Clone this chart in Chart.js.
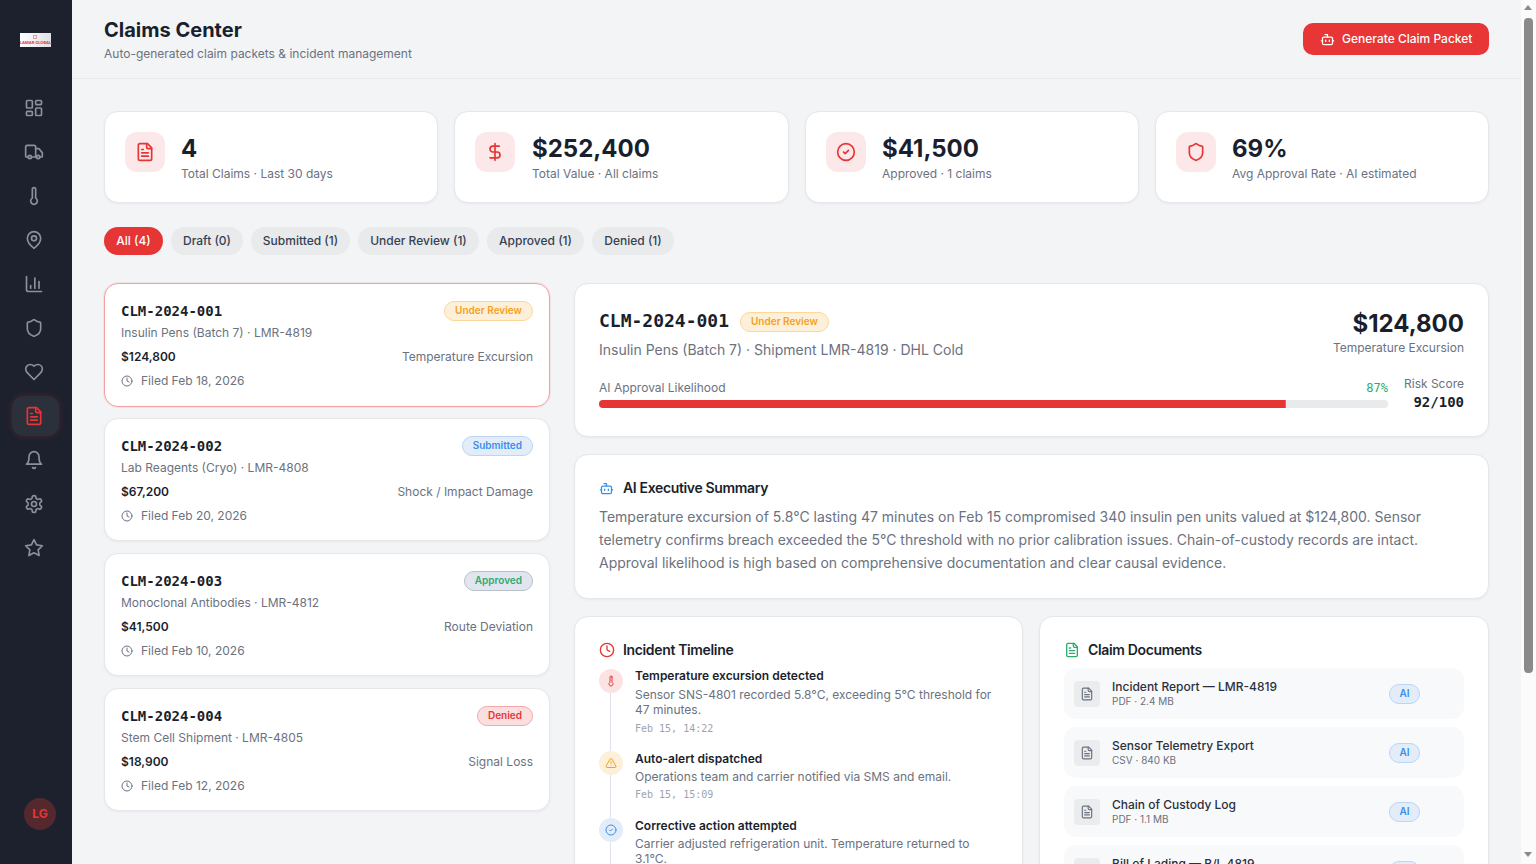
<!DOCTYPE html>
<html>
<head>
<meta charset="utf-8">
<title>Claims Center</title>
<script src="https://cdn.jsdelivr.net/npm/chart.js@4"></script>
<style>
  * { box-sizing: border-box; }
  html, body { margin: 0; padding: 0; overflow: hidden; }
  body { background: #f3f4f6; font-family: Inter, "Noto Sans", sans-serif; color: #1a1f2e; height: 864px; position: relative; }
  .a { position: absolute; white-space: nowrap; }
  .t { position: absolute; white-space: nowrap; transform: translateY(-50%); line-height: 1.2; }
  .r { transform: translate(-100%, -50%); }
  .mono { font-family: "DejaVu Sans Mono", monospace; }
  .card { position: absolute; background: #fff; border: 1px solid #e5e7eb; border-radius: 14px; box-shadow: 0 1px 3px rgba(0,0,0,.05); }
  .sidebar { position: fixed; left: 0; top: 0; width: 72px; height: 864px; background: #1c212d; z-index: 5; }
  .pills { position: absolute; left: 104px; top: 227px; display: flex; gap: 8px; }
  .pill { height: 28px; line-height: 28px; text-align: center; border-radius: 14px; background: #e9eaec; color: #374151; font-size: 12px; font-weight: 500; }
  .pill.on { background: #e53535; color: #fff; }
  .badge { position: absolute; height: 20px; line-height: 17px; padding: 0 10px; border-radius: 10px; font-size: 10px; font-weight: 600; border: 1px solid; white-space: nowrap; }
  svg { position: absolute; fill: none; stroke-linecap: round; stroke-linejoin: round; }
</style>
</head>
<body>
<div id="page"></div>
<script>
const kpiValues = ["4", "$252,400", "$41,500", "69%"];
const kpiLabels = ["Total Claims · Last 30 days", "Total Value · All claims", "Approved · 1 claims", "Avg Approval Rate · AI estimated"];
const kpiIcons = ["file", "dollar", "check", "shield"];
const filterLabels = ["All (4)", "Draft (0)", "Submitted (1)", "Under Review (1)", "Approved (1)", "Denied (1)"];
const claimIds = ["CLM-2024-001", "CLM-2024-002", "CLM-2024-003", "CLM-2024-004"];
const claimItems = ["Insulin Pens (Batch 7) · LMR-4819", "Lab Reagents (Cryo) · LMR-4808", "Monoclonal Antibodies · LMR-4812", "Stem Cell Shipment · LMR-4805"];
const claimAmounts = ["$124,800", "$67,200", "$41,500", "$18,900"];
const claimCauses = ["Temperature Excursion", "Shock / Impact Damage", "Route Deviation", "Signal Loss"];
const claimDates = ["Filed Feb 18, 2026", "Filed Feb 20, 2026", "Filed Feb 10, 2026", "Filed Feb 12, 2026"];
const claimStatus = ["Under Review", "Submitted", "Approved", "Denied"];
const summaryLines = [
  "Temperature excursion of 5.8°C lasting 47 minutes on Feb 15 compromised 340 insulin pen units valued at $124,800. Sensor",
  "telemetry confirms breach exceeded the 5°C threshold with no prior calibration issues. Chain-of-custody records are intact.",
  "Approval likelihood is high based on comprehensive documentation and clear causal evidence."
];
const docNames = ["Incident Report — LMR-4819", "Sensor Telemetry Export", "Chain of Custody Log", "Bill of Lading — B/L 4819"];
const docMeta = ["PDF · 2.4 MB", "CSV · 840 KB", "PDF · 1.1 MB", "PDF · 320 KB"];
const approvalLabels = ["AI Approval Likelihood"];
const approvalValues = [87];
const approvalRemainder = [13];

const statusStyle = {
  "Under Review": ["#fdf0d9", "#fbd79a", "#f5a01e"],
  "Submitted": ["#e3edfa", "#b9d5f7", "#3b8fe8"],
  "Approved": ["#e1e6ee", "#b8c0cc", "#2eaa6e"],
  "Denied": ["#fbdfdf", "#f5a8a8", "#e53535"]
};

const ICONS = {
  grid: '<rect x="3" y="3" width="7" height="9" rx="1"/><rect x="14" y="3" width="7" height="5" rx="1"/><rect x="14" y="12" width="7" height="9" rx="1"/><rect x="3" y="16" width="7" height="5" rx="1"/>',
  truck: '<path d="M14 18V6a2 2 0 0 0-2-2H4a2 2 0 0 0-2 2v11a1 1 0 0 0 1 1h2"/><path d="M15 18H9"/><path d="M19 18h2a1 1 0 0 0 1-1v-3.65a1 1 0 0 0-.22-.624l-3.48-4.35A1 1 0 0 0 17.52 8H14"/><circle cx="17" cy="18" r="2"/><circle cx="7" cy="18" r="2"/>',
  thermo: '<path d="M14 4v10.54a4 4 0 1 1-4 0V4a2 2 0 0 1 4 0Z"/>',
  pin: '<path d="M20 10c0 6-8 12-8 12s-8-6-8-12a8 8 0 0 1 16 0Z"/><circle cx="12" cy="10" r="3"/>',
  chart: '<path d="M3 3v16a2 2 0 0 0 2 2h16"/><path d="M18 17V9"/><path d="M13 17V5"/><path d="M8 17v-3"/>',
  shield: '<path d="M20 13c0 5-3.5 7.5-7.66 8.95a1 1 0 0 1-.67-.01C7.5 20.5 4 18 4 13V6a1 1 0 0 1 1-1c2 0 4.5-1.2 6.24-2.72a1.17 1.17 0 0 1 1.52 0C14.51 3.81 17 5 19 5a1 1 0 0 1 1 1z"/>',
  heart: '<path d="M19 14c1.49-1.46 3-3.21 3-5.5A5.5 5.5 0 0 0 16.5 3c-1.76 0-3 .5-4.5 2-1.5-1.5-2.74-2-4.5-2A5.5 5.5 0 0 0 2 8.5c0 2.3 1.5 4.05 3 5.5l7 7Z"/>',
  file: '<path d="M15 2H6a2 2 0 0 0-2 2v16a2 2 0 0 0 2 2h12a2 2 0 0 0 2-2V7Z"/><path d="M14 2v4a2 2 0 0 0 2 2h4"/><path d="M10 9H8"/><path d="M16 13H8"/><path d="M16 17H8"/>',
  bell: '<path d="M6 8a6 6 0 0 1 12 0c0 7 3 9 3 9H3s3-2 3-9"/><path d="M10.3 21a1.94 1.94 0 0 0 3.4 0"/>',
  gear: '<path d="M12.22 2h-.44a2 2 0 0 0-2 2v.18a2 2 0 0 1-1 1.73l-.43.25a2 2 0 0 1-2 0l-.15-.08a2 2 0 0 0-2.73.73l-.22.38a2 2 0 0 0 .73 2.73l.15.1a2 2 0 0 1 1 1.72v.51a2 2 0 0 1-1 1.74l-.15.09a2 2 0 0 0-.73 2.73l.22.38a2 2 0 0 0 2.73.73l.15-.08a2 2 0 0 1 2 0l.43.25a2 2 0 0 1 1 1.73V20a2 2 0 0 0 2 2h.44a2 2 0 0 0 2-2v-.18a2 2 0 0 1 1-1.73l.43-.25a2 2 0 0 1 2 0l.15.08a2 2 0 0 0 2.73-.73l.22-.39a2 2 0 0 0-.73-2.73l-.15-.08a2 2 0 0 1-1-1.74v-.5a2 2 0 0 1 1-1.74l.15-.09a2 2 0 0 0 .73-2.73l-.22-.38a2 2 0 0 0-2.73-.73l-.15.08a2 2 0 0 1-2 0l-.43-.25a2 2 0 0 1-1-1.73V4a2 2 0 0 0-2-2z"/><circle cx="12" cy="12" r="3"/>',
  star: '<polygon points="12 2 15.09 8.26 22 9.27 17 14.14 18.18 21.02 12 17.77 5.82 21.02 7 14.14 2 9.27 8.91 8.26 12 2"/>',
  dollar: '<line x1="12" y1="2" x2="12" y2="22"/><path d="M17 5H9.5a3.5 3.5 0 0 0 0 7h5a3.5 3.5 0 0 1 0 7H6"/>',
  check: '<circle cx="12" cy="12" r="10"/><path d="m9 12 2 2 4-4"/>',
  clock: '<circle cx="12" cy="12" r="10"/><polyline points="12 6 12 12 16 14"/>',
  bot: '<path d="M12 8V4H8"/><rect width="16" height="12" x="4" y="8" rx="2"/><path d="M2 14h2"/><path d="M20 14h2"/><path d="M15 13v2"/><path d="M9 13v2"/>',
  alert: '<path d="m21.73 18-8-14a2 2 0 0 0-3.48 0l-8 14A2 2 0 0 0 4 21h16a2 2 0 0 0 1.73-3"/><path d="M12 9v4"/><path d="M12 17h.01"/>'
};
const navIcons = ["grid", "truck", "thermo", "pin", "chart", "shield", "heart", "file", "bell", "gear", "star"];

let html = "";
function icon(name, cx, cy, size, color, sw) {
  return '<svg style="left:' + (cx - size / 2) + 'px;top:' + (cy - size / 2) + 'px" width="' + size + '" height="' + size +
    '" viewBox="0 0 24 24" stroke="' + color + '" stroke-width="' + (sw || 2) + '">' + ICONS[name] + '</svg>';
}
function text(x, y, s, css, right, cls) {
  return '<div class="t' + (right ? ' r' : '') + (cls ? ' ' + cls : '') + '" style="left:' + x + 'px;top:' + y + 'px;' + css + '">' + s + '</div>';
}
function box(x, y, w, h, css) {
  return '<div class="a" style="left:' + x + 'px;top:' + y + 'px;width:' + w + 'px;height:' + h + 'px;' + css + '"></div>';
}
function card(x, y, w, h, css) {
  return '<div class="card" style="left:' + x + 'px;top:' + y + 'px;width:' + w + 'px;height:' + h + 'px;' + (css || "") + '"></div>';
}
function badge(label, y, opts) {
  const st = statusStyle[label];
  const pos = opts.right ? 'right:' + (1536 - opts.right) + 'px' : 'left:' + opts.left + 'px';
  return '<div class="badge" style="' + pos + ';top:' + y + 'px;background:' + st[0] + ';border-color:' + st[1] + ';color:' + st[2] + '">' + label + '</div>';
}

// header
html += box(72, 78, 1449, 1, "background:#e8e9ec");
html += text(104, 30, "Claims Center", "font-size:20px;font-weight:700");
html += text(104, 54, "Auto-generated claim packets &amp; incident management", "font-size:12px;color:#6b7280");
html += box(1303, 23, 186, 32, "background:#e83535;border-radius:10px");
html += icon("bot", 1327, 39, 15, "#fff");
html += text(1342, 38.5, "Generate Claim Packet", "font-size:12px;font-weight:500;color:#fff");

// kpi row
const kpiX = [104, 454, 805, 1155];
const kpiW = [334, 335, 334, 334];
const kpiTextX = [181, 532, 882, 1232];
kpiValues.forEach((v, i) => {
  const x = kpiX[i];
  html += card(x, 111, kpiW[i], 92);
  html += box(x + 21, 132, 40, 40, "background:#fce8e8;border-radius:12px");
  html += icon(kpiIcons[i], x + 41, 152, 20, "#e53535");
  html += text(kpiTextX[i], 149, v, "font-size:24px;font-weight:700");
  html += text(kpiTextX[i], 174, kpiLabels[i], "font-size:12px;color:#6b7280");
});

// filter pills
const pillW = [59, 72, 99, 121, 97, 82];
html += '<div class="pills">' + filterLabels.map((l, i) => '<div class="pill' + (i === 0 ? ' on' : '') + '" style="width:' + pillW[i] + 'px">' + l + '</div>').join("") + '</div>';

// claim list
claimIds.forEach((id, i) => {
  const y = 283 + i * 135;
  html += card(104, y, 446, i === 0 ? 124 : 123, i === 0 ? "border:1.5px solid #f3a0a0;box-shadow:0 0 0 1px rgba(229,53,53,.08)" : "");
  html += text(121, y + 28, id, "font-size:14px;font-weight:600", false, "mono");
  html += badge(claimStatus[i], y + 18, { right: 533 });
  html += text(121, y + 50, claimItems[i], "font-size:12px;color:#6b7280");
  html += text(121, y + 74, claimAmounts[i], "font-size:12px;font-weight:600");
  html += text(533, y + 74, claimCauses[i], "font-size:12px;color:#6b7280", true);
  html += icon("clock", 127, y + 98, 12, "#6b7280");
  html += text(141, y + 98, claimDates[i], "font-size:12px;color:#6b7280");
});

// detail card
html += card(574, 283, 915, 154);
html += text(599, 321, claimIds[0], "font-size:18px;font-weight:600", false, "mono");
html += badge(claimStatus[0], 312, { left: 740 });
html += text(599, 350, "Insulin Pens (Batch 7) · Shipment LMR-4819 · DHL Cold", "font-size:14px;color:#6b7280");
html += text(1464, 324, claimAmounts[0], "font-size:24px;font-weight:700", true);
html += text(1464, 348, claimCauses[0], "font-size:12px;color:#6b7280", true);
html += text(599, 388, approvalLabels[0], "font-size:12px;color:#6b7280");
html += text(1388, 388, approvalValues[0] + "%", "font-size:12px;font-weight:500;color:#2eaa6e", true, "mono");
html += text(1464, 384, "Risk Score", "font-size:12px;color:#6b7280", true);
html += text(1464, 402, "92/100", "font-size:14px;font-weight:600", true, "mono");
html += '<div class="a" style="left:599px;top:400px;width:789px;height:8px;border-radius:4px;overflow:hidden;background:#e9eaec"><canvas id="approval" width="789" height="8" style="display:block"></canvas></div>';

// summary card
html += card(574, 454, 915, 145);
html += icon("bot", 606.5, 488, 15, "#3b8fe8");
html += text(623, 488, "AI Executive Summary", "font-size:14px;font-weight:600;letter-spacing:-.35px");
summaryLines.forEach((l, i) => { html += text(599, 517 + i * 23, l, "font-size:14px;color:#6b7280"); });

// timeline card
html += card(574, 616, 449, 450);
html += icon("clock", 607, 650, 16, "#e53535");
html += text(623, 650, "Incident Timeline", "font-size:14px;font-weight:600;letter-spacing:-.35px");
html += box(610, 690, 1, 370, "background:#e0e3ea");
const tlIcon = ["thermo", "alert", "check"];
const tlIconColor = ["#e53535", "#f5a01e", "#3b8fe8"];
const tlIconBg = ["#fbe3e3", "#fdf0d9", "#e3edfa"];
const tlY = [681, 763, 830];
const tlTitleY = [676, 759, 826];
const tlTitles = ["Temperature excursion detected", "Auto-alert dispatched", "Corrective action attempted"];
const tlDesc = [
  ["Sensor SNS-4801 recorded 5.8°C, exceeding 5°C threshold for", "47 minutes."],
  ["Operations team and carrier notified via SMS and email."],
  ["Carrier adjusted refrigeration unit. Temperature returned to", "3.1°C."]
];
const tlTimes = ["Feb 15, 14:22", "Feb 15, 15:09", ""];
tlTitles.forEach((t, i) => {
  const y = tlY[i];
  html += box(599, y - 12, 24, 24, "background:" + tlIconBg[i] + ";border-radius:50%");
  html += icon(tlIcon[i], 611, y, 12, tlIconColor[i]);
  html += text(635, tlTitleY[i], t, "font-size:12px;font-weight:600");
  tlDesc[i].forEach((d, j) => { html += text(635, y + 13.5 + j * 15, d, "font-size:12px;color:#6b7280"); });
  if (tlTimes[i]) {
    html += text(635, y + 16 + tlDesc[i].length * 16, tlTimes[i], "font-size:10px;color:#9ca3af", false, "mono");
  }
});

// documents card
html += card(1039, 616, 450, 450);
html += icon("file", 1072, 650, 16, "#2eaa6e");
html += text(1088, 650, "Claim Documents", "font-size:14px;font-weight:600;letter-spacing:-.35px");
docNames.forEach((d, i) => {
  const y = 668 + i * 59;
  html += box(1064, y, 400, 51, "background:#f8f9fb;border-radius:12px");
  html += box(1074, y + 13, 26, 26, "background:#ebecee;border-radius:4px");
  html += icon("file", 1087, y + 26, 14, "#6b7280");
  html += text(1112, y + 18.5, d, "font-size:12px;font-weight:500;color:#2b303b");
  html += text(1112, y + 33, docMeta[i], "font-size:10px;color:#6b7280");
  html += '<div class="badge" style="left:1389px;top:' + (y + 16) + 'px;background:#e3edfa;border-color:#b9d5f7;color:#3b8fe8;width:31px;text-align:center;padding:0">AI</div>';
});

// scrollbar, the page behind it is longer than the window
html += box(1521, 0, 15, 864, "background:#fbfbfb");
html += box(1524, 18, 9, 655, "background:#8a8a8a;border-radius:4px");
html += '<div class="a" style="left:1524px;top:5px;border:4.5px solid transparent;border-top:0;border-bottom:5px solid #8a8a8a"></div>';
html += '<div class="a" style="left:1524px;top:852px;border:4.5px solid transparent;border-bottom:0;border-top:5px solid #8a8a8a"></div>';

// sidebar
let side = '<div class="sidebar">';
side += box(20, 33, 31, 14, "background:linear-gradient(90deg,#fff,#dfe0e6);overflow:hidden");
side += text(35.5, 43, "LAMAR GLOBAL", "font-size:4px;font-weight:700;color:#e53535;transform:translate(-50%,-50%)");
side += box(33, 35, 4, 4, "border:1px solid #d9a0a0");
side += box(12, 396, 47, 40, "background:#2b303b;border-radius:12px;box-shadow:0 0 6px rgba(229,53,53,.25)");
navIcons.forEach((n, i) => {
  side += icon(n, 34, 108 + i * 44, 20, i === 7 ? "#e53535" : "#8b909c");
});
side += box(24, 798, 32, 32, "background:#55282e;border-radius:50%");
side += text(40, 814, "LG", "font-size:12px;font-weight:700;color:#e53535;transform:translate(-50%,-50%)");
side += '</div>';

document.getElementById("page").innerHTML = side + html;

new Chart(document.getElementById("approval"), {
  type: "bar",
  data: {
    labels: approvalLabels,
    datasets: [
      { data: approvalValues, backgroundColor: "#e53535", barPercentage: 1, categoryPercentage: 1 },
      { data: approvalRemainder, backgroundColor: "#e9eaec", barPercentage: 1, categoryPercentage: 1 }
    ]
  },
  options: {
    indexAxis: "y", responsive: false, animation: false,
    layout: { padding: 0 },
    plugins: { legend: { display: false }, tooltip: { enabled: false } },
    scales: {
      x: { stacked: true, min: 0, max: 100, display: false },
      y: { stacked: true, display: false }
    }
  }
});
</script>
</body>
</html>
